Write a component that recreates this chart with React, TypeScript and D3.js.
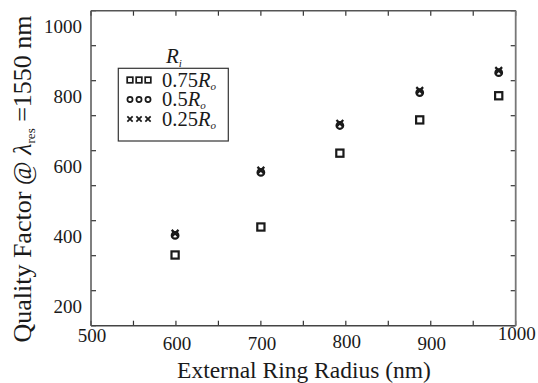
import React from "react";
import * as d3 from "d3";

const xTicksMajor = [500, 600, 700, 800, 900, 1000];
const yTicksMajor = [200, 400, 600, 800, 1000];
const xLabelDy = [2, 10, 10, 8, 10, 0];

const radii = [599, 700, 793, 887, 980];
const q075 = [302, 382, 593, 688, 757];
const q050 = [358, 538, 672, 766, 823];
const q025 = [364, 544, 678, 772, 829];

const seriesNames = ["0.75", "0.5", "0.25"];
const seriesKinds = ["square", "circle", "cross"];

const W = 538;
const H = 383;
const M = { left: 91, right: 515.7, top: 10.7, bottom: 325.7 };
const FONT = "'Liberation Serif', 'Times New Roman', serif";
const INK = "#1a1a1a";

function Marker({ kind, x, y, s = 1 }: { kind: string; x: number; y: number; s?: number }) {
  if (kind === "square") {
    const h = 3.6 * s;
    return <rect x={x - h} y={y - h} width={2 * h} height={2 * h} fill="none" stroke={INK} strokeWidth={2.2 * s} />;
  }
  if (kind === "circle") {
    return <circle cx={x} cy={y} r={3.3 * s} fill="none" stroke={INK} strokeWidth={2.2 * s} />;
  }
  const h = 3.4 * s;
  return (
    <path d={`M${x - h},${y - h}L${x + h},${y + h}M${x - h},${y + h}L${x + h},${y - h}`} stroke={INK} strokeWidth={2.2 * s} />
  );
}

export default function App() {
  const x = d3.scaleLinear().domain([500, 1000]).range([M.left, M.right]);
  const y = d3.scaleLinear().domain([100, 1000]).range([M.bottom, M.top]);
  const xMinor = d3.range(500, 1001, 50);
  const yMinor = d3.range(100, 1001, 100);
  const series = [q075, q050, q025];
  const tl = 5;

  return (
    <div style={{ position: "absolute", left: 0, top: 0 }}>
      <svg width={W} height={H} style={{ display: "block", background: "#fff" }}>
        {/* ticks */}
        {xMinor.map((v) => (
          <g key={"xt" + v}>
            <line x1={x(v)} x2={x(v)} y1={M.bottom} y2={M.bottom - tl} stroke="#333" strokeWidth={1.2} />
            <line x1={x(v)} x2={x(v)} y1={M.top} y2={M.top + tl} stroke="#333" strokeWidth={1.2} />
          </g>
        ))}
        {yMinor.map((v) => (
          <g key={"yt" + v}>
            <line x1={M.left} x2={M.left + tl} y1={y(v)} y2={y(v)} stroke="#333" strokeWidth={1.2} />
            <line x1={M.right} x2={M.right - tl} y1={y(v)} y2={y(v)} stroke="#333" strokeWidth={1.2} />
          </g>
        ))}
        {/* frame */}
        <line x1={M.left} x2={M.right} y1={M.top} y2={M.top} stroke="#555" strokeWidth={1.5} />
        <line x1={M.left} x2={M.right} y1={M.bottom} y2={M.bottom} stroke="#444" strokeWidth={1.5} />
        <line x1={M.left} x2={M.left} y1={M.top} y2={M.bottom} stroke="#555" strokeWidth={1.5} />
        <line x1={M.right} x2={M.right} y1={M.top} y2={M.bottom} stroke="#777" strokeWidth={1.8} />

        {/* tick labels */}
        {xTicksMajor.map((v, i) => (
          <text key={"xl" + v} x={x(v) + 1} y={M.bottom + 14 + xLabelDy[i]} textAnchor="middle" fontFamily={FONT} fontSize={19} fill={INK}>
            {v}
          </text>
        ))}
        {yTicksMajor.map((v) => (
          <text key={"yl" + v} x={82} y={y(v) + 22} textAnchor="end" fontFamily={FONT} fontSize={19} fill={INK}>
            {v}
          </text>
        ))}

        {/* axis titles */}
        <text x={304} y={378} textAnchor="middle" fontFamily={FONT} fontSize={23.5} fill={INK}>
          External Ring Radius (nm)
        </text>
        <text transform="translate(31,179) rotate(-90)" textAnchor="middle" fontFamily={FONT} fontSize={26} fill={INK}>
          Quality Factor @ <tspan fontStyle="italic">λ</tspan>
          <tspan fontSize={13} dy={4}>res</tspan>
          <tspan dy={-4}> =1550 nm</tspan>
        </text>

        {/* data */}
        {series.map((s, si) =>
          s.map((v, i) => <Marker key={si + "-" + i} kind={seriesKinds[si]} x={x(radii[i])} y={y(v)} />)
        )}

        {/* legend */}
        <text x={166} y={63} fontFamily={FONT} fontSize={21} fontStyle="italic" fill={INK}>
          R<tspan fontSize={11} dy={4}>i</tspan>
        </text>
        <rect x={118.3} y={68.3} width={110} height={72.7} fill="#fff" stroke="#333" strokeWidth={1.2} />
        {seriesNames.map((n, i) => {
          const ry = 80 + i * 19.5;
          return (
            <g key={"lg" + n}>
              {[0, 1, 2].map((k) => (
                <Marker key={k} kind={seriesKinds[i]} x={130 + k * 9} y={ry} s={0.78} />
              ))}
              <text x={162} y={ry + 6.5} fontFamily={FONT} fontSize={20.5} fill={INK}>
                {n}
                <tspan fontStyle="italic">R</tspan>
                <tspan fontSize={11} dy={3} fontStyle="italic">o</tspan>
              </text>
            </g>
          );
        })}
      </svg>
    </div>
  );
}
